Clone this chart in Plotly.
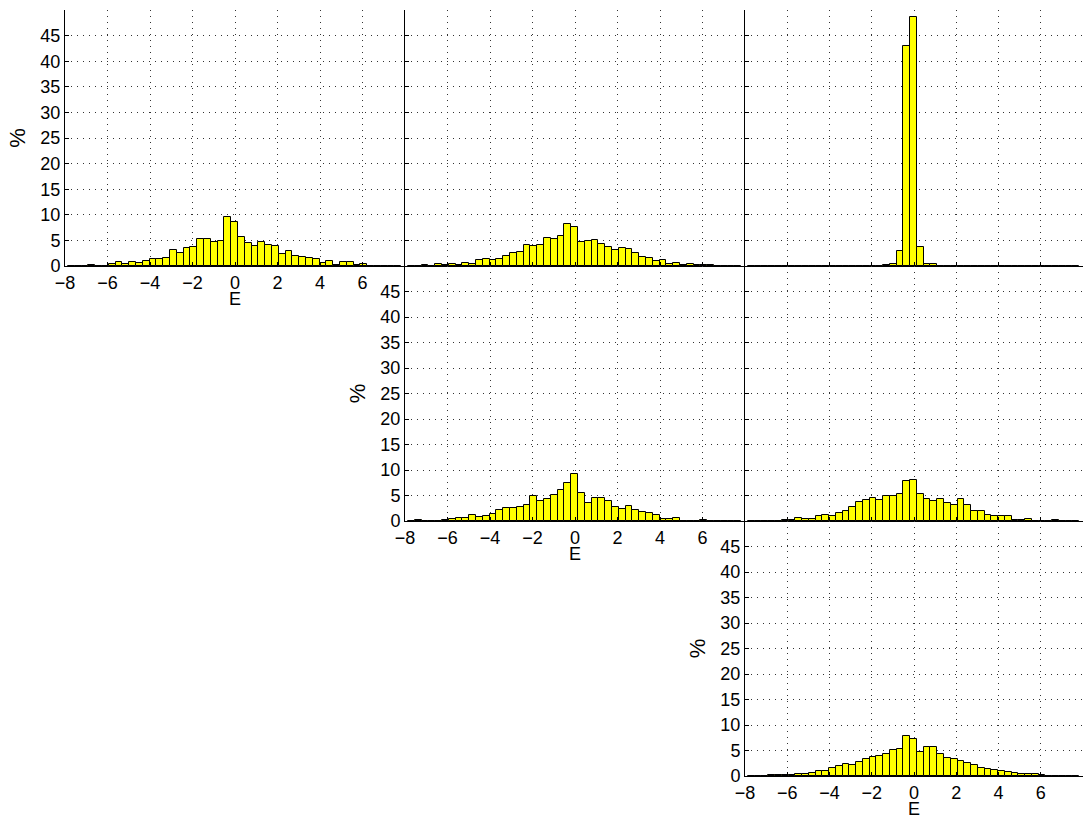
import plotly.graph_objects as go

# Histogram bin centres (shared by all panels)
BIN_CENTERS = [-7.70, -7.38, -7.06, -6.74, -6.42, -6.10, -5.78, -5.46, -5.14, -4.82,
               -4.50, -4.18, -3.86, -3.54, -3.22, -2.90, -2.58, -2.26, -1.94, -1.62,
               -1.30, -0.98, -0.66, -0.34, -0.02, 0.30, 0.62, 0.94, 1.26, 1.58,
               1.90, 2.22, 2.54, 2.86, 3.18, 3.50, 3.82, 4.14, 4.46, 4.78,
               5.10, 5.42, 5.74, 6.06, 6.38, 6.70, 7.02, 7.34, 7.66]

# Percent per bin, one list per panel (row, column)
P_R1C1 = [0, 0, 0, 0.25, 0, 0, 0.45, 0.7, 0.4, 0.8,
          0.5, 0.9, 1.3, 1.3, 1.5, 3.1, 2.6, 3.6, 3.7, 5.3,
          5.2, 4.75, 4.95, 9.5, 8.5, 5.7, 4.4, 4.0, 4.7, 4.2,
          4.0, 2.3, 3.0, 1.9, 1.7, 1.55, 1.35, 0.5, 0.9, 0.2,
          0.85, 0.7, 0.15, 0.3, 0, 0, 0, 0, 0]
P_R1C2 = [0, 0, 0.1, 0, 0.35, 0.1, 0.4, 0.1, 0.5, 0.3,
          1.1, 1.4, 1.1, 1.4, 2.0, 2.5, 2.8, 4.2, 4.0, 4.05,
          5.4, 5.2, 5.8, 8.3, 7.55, 4.6, 4.8, 5.0, 4.35, 3.8,
          3.1, 3.45, 3.25, 2.5, 1.7, 1.5, 0.9, 1.2, 0.3, 0.5,
          0.1, 0.3, 0.15, 0.1, 0.1, 0, 0, 0, 0]
P_R1C3 = [0, 0, 0, 0, 0, 0, 0, 0, 0, 0,
          0, 0, 0, 0, 0, 0, 0, 0, 0, 0,
          0.15, 0.45, 3.0, 42.9, 48.7, 3.8, 0.45, 0.3, 0, 0.05,
          0, 0, 0, 0, 0, 0, 0, 0, 0, 0,
          0, 0, 0, 0, 0, 0, 0, 0, 0]
P_R2C2 = [0, 0.1, 0.05, 0.05, 0.05, 0.15, 0.4, 0.65, 0.6, 1.25,
          0.85, 1.0, 1.4, 2.15, 2.6, 2.6, 2.75, 3.15, 4.85, 4.0,
          4.4, 5.1, 6.0, 7.5, 9.2, 5.55, 3.6, 4.5, 4.5, 3.9,
          2.8, 2.4, 3.0, 2.15, 1.8, 1.6, 1.1, 0.45, 0.45, 0.5,
          0.05, 0.05, 0, 0.2, 0, 0.05, 0, 0, 0]
P_R2C3 = [0, 0.05, 0, 0, 0, 0.25, 0.15, 0.6, 0.4, 0.4,
          0.9, 1.25, 1.05, 1.55, 1.9, 2.75, 3.65, 4.2, 4.45, 4.2,
          5.0, 5.0, 5.3, 7.85, 7.95, 5.2, 4.4, 3.9, 4.25, 3.6,
          3.2, 4.4, 3.15, 1.95, 1.95, 1.25, 0.9, 1.05, 1.0, 0.2,
          0.2, 0.45, 0, 0, 0, 0.1, 0, 0, 0]
P_R3C3 = [0, 0.05, 0.05, 0.15, 0.25, 0.15, 0.1, 0.4, 0.45, 0.65,
          0.9, 1.05, 1.65, 1.95, 2.3, 2.1, 2.7, 3.4, 3.8, 4.0,
          4.4, 5.05, 5.2, 7.9, 7.25, 4.75, 5.75, 5.75, 4.3, 3.6,
          3.3, 3.0, 2.55, 2.2, 1.65, 1.4, 1.25, 0.9, 0.7, 0.65,
          0.45, 0.3, 0.4, 0.1, 0, 0.05, 0.05, 0, 0]

X_TICKS = [-8, -6, -4, -2, 0, 2, 4, 6]
Y_TICKS = [0, 5, 10, 15, 20, 25, 30, 35, 40, 45, 50]
Y_TICKTEXT = ["0", "5", "10", "15", "20", "25", "30", "35", "40", "45", ""]
X_LABEL = "E"
Y_LABEL = "%"

W, H = 1083, 825
ML, MR, MT, MB = 65, 0, 10, 49
PW, PH = W - ML - MR, H - MT - MB
COL_DOM = [[0, 340 / PW], [340 / PW, 680 / PW], [680 / PW, 1.0]]
ROW_DOM = [[1 - 256 / PH, 1.0], [1 - 511 / PH, 1 - 256 / PH], [0.0, 1 - 511 / PH]]

panels = [
    (0, 0, P_R1C1, True),
    (0, 1, P_R1C2, False),
    (0, 2, P_R1C3, False),
    (1, 1, P_R2C2, True),
    (1, 2, P_R2C3, False),
    (2, 2, P_R3C3, True),
]

fig = go.Figure()
GRID = dict(showgrid=True, gridcolor="#333333", gridwidth=1, griddash="1px,5px")
layout = {}
for i, (r, c, vals, diag) in enumerate(panels, start=1):
    sfx = "" if i == 1 else str(i)
    fig.add_trace(go.Bar(
        x=BIN_CENTERS, y=vals, width=0.32,
        marker=dict(color="#FFFF00", line=dict(color="black", width=1)),
        xaxis="x" + sfx, yaxis="y" + sfx, showlegend=False,
        hoverinfo="x+y",
    ))
    layout["xaxis" + sfx] = dict(
        domain=COL_DOM[c], anchor="y" + sfx, range=[-8, 8],
        tickvals=X_TICKS, showticklabels=diag,
        ticks="inside", ticklen=4, tickcolor="black",
        showline=True, linecolor="black", linewidth=1, zeroline=False,
        automargin=False,
        **GRID,
    )
    layout["yaxis" + sfx] = dict(
        domain=ROW_DOM[r], anchor="x" + sfx, range=[0, 50],
        tickvals=Y_TICKS, ticktext=Y_TICKTEXT, showticklabels=diag,
        ticks="inside", ticklen=4, tickcolor="black",
        showline=True, linecolor="black", linewidth=1, zeroline=False,
        automargin=False,
        title=dict(text=Y_LABEL if diag else "", standoff=8),
        **GRID,
    )
    if diag:
        fig.add_annotation(
            text=X_LABEL, showarrow=False,
            xref="x" + sfx + " domain", yref="y" + sfx + " domain",
            x=0.5, y=0, xanchor="center", yanchor="middle", yshift=-33,
            font=dict(size=18),
        )

fig.update_layout(
    width=W, height=H, autosize=False,
    margin=dict(l=ML, r=MR, t=MT, b=MB, pad=0),
    paper_bgcolor="white", plot_bgcolor="white",
    font=dict(family="Liberation Sans, Arial, sans-serif", size=18, color="black"),
    bargap=0, showlegend=False,
    **layout,
)

fig.write_html("out.html")
